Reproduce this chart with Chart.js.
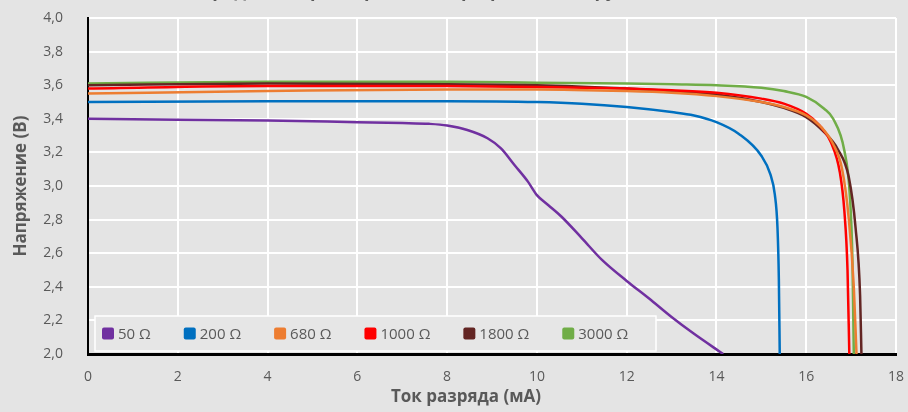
<!DOCTYPE html>
<html>
<head>
<meta charset="utf-8">
<script src="https://cdn.jsdelivr.net/npm/chart.js@4.4.1/dist/chart.umd.min.js"></script>
<style>
  html, body { margin: 0; padding: 0; background: #e4e4e4; }
  #wrap { position: relative; width: 908px; height: 412px; }
</style>
</head>
<body>
<div id="wrap"><canvas id="chart"></canvas></div>
<script>
// series labels and colours
const names = ['50 Ω', '200 Ω', '680 Ω', '1000 Ω', '1800 Ω', '3000 Ω'];
const colors = ['#7030a0', '#0070c0', '#ed7d31', '#ff0000', '#632523', '#70ad47'];

// current (mA) / voltage (V)
const cur50   = [0, 2, 4, 6, 7, 7.6, 8, 8.45, 8.9, 9.2, 9.5, 9.8, 10, 10.25, 10.55, 11, 11.45, 12, 12.5, 13, 13.5, 14.15];
const volt50  = [3.40, 3.395, 3.39, 3.38, 3.375, 3.37, 3.36, 3.333, 3.284, 3.224, 3.125, 3.026, 2.946, 2.887, 2.817, 2.69, 2.56, 2.435, 2.33, 2.22, 2.12, 2.00];

const cur200  = [0, 4, 8, 10, 11, 12, 13, 13.5, 14, 14.5, 15, 15.2, 15.3, 15.36, 15.39, 15.41];
const volt200 = [3.50, 3.505, 3.505, 3.50, 3.49, 3.47, 3.44, 3.42, 3.38, 3.31, 3.18, 3.07, 2.95, 2.75, 2.45, 2.00];

const cur680  = [0, 4, 8, 10, 12, 13, 14, 15, 15.5, 16, 16.3, 16.6, 16.8, 16.95, 17.06, 17.12];
const volt680 = [3.55, 3.565, 3.575, 3.575, 3.565, 3.555, 3.535, 3.50, 3.47, 3.42, 3.36, 3.25, 3.10, 2.80, 2.40, 2.00];

const cur1000  = [0, 4, 8, 10, 12, 13, 14, 15, 15.5, 16, 16.3, 16.55, 16.75, 16.85, 16.92, 16.96];
const volt1000 = [3.58, 3.595, 3.595, 3.59, 3.58, 3.57, 3.555, 3.52, 3.49, 3.43, 3.36, 3.26, 3.08, 2.85, 2.50, 2.00];

const cur1800  = [0, 4, 8, 10, 12, 13, 14, 15, 15.5, 16, 16.4, 16.7, 16.95, 17.1, 17.2, 17.23];
const volt1800 = [3.60, 3.61, 3.605, 3.60, 3.58, 3.565, 3.545, 3.50, 3.465, 3.41, 3.32, 3.22, 3.05, 2.75, 2.35, 2.00];

const cur3000  = [0, 4, 8, 10, 12, 13, 14, 15, 15.5, 16, 16.4, 16.6, 16.85, 16.97, 17.03, 17.06];
const volt3000 = [3.61, 3.62, 3.62, 3.615, 3.61, 3.605, 3.60, 3.585, 3.565, 3.53, 3.46, 3.40, 3.21, 2.95, 2.55, 2.00];

const currents = [cur50, cur200, cur680, cur1000, cur1800, cur3000];
const voltages = [volt50, volt200, volt680, volt1000, volt1800, volt3000];

const grey = '#595959';
const font = 'Open Sans';

const datasets = names.map((n, i) => ({
  label: n,
  data: currents[i].map((x, k) => ({ x: x, y: voltages[i][k] })),
  borderColor: colors[i],
  backgroundColor: colors[i],
  borderWidth: 2.5,
  pointRadius: 0,
  cubicInterpolationMode: 'monotone',
  fill: false
}));

// legend box sitting inside the plot, bottom left
const boxLegend = {
  id: 'boxLegend',
  afterDraw(chart) {
    const ctx = chart.ctx;
    const x0 = 95, y0 = 316, w = 561, h = 35;
    ctx.save();
    ctx.fillStyle = '#e6e6e6';
    ctx.fillRect(x0, y0, w, h);
    ctx.strokeStyle = '#ffffff';
    ctx.lineWidth = 1.5;
    ctx.strokeRect(x0, y0, w, h);
    ctx.font = '15px "' + font + '"';
    ctx.textBaseline = 'middle';
    let x = 102;
    const cy = y0 + h / 2;
    chart.data.datasets.forEach(ds => {
      ctx.fillStyle = ds.borderColor;
      ctx.beginPath();
      ctx.roundRect(x, cy - 6, 12, 12, 2);
      ctx.fill();
      ctx.fillStyle = grey;
      ctx.fillText(ds.label, x + 16, cy + 1);
      x += 16 + ctx.measureText(ds.label).width + 33;
    });
    ctx.restore();
  }
};

// chart title (mostly cut off by the top edge) and x axis title
const texts = {
  id: 'texts',
  afterDraw(chart) {
    const ctx = chart.ctx;
    ctx.save();
    ctx.fillStyle = grey;
    ctx.font = 'bold 18px "' + font + '"';
    ctx.textBaseline = 'alphabetic';
    ctx.fillText('Разрядные характеристики при разной нагрузке', 180, -3);
    ctx.font = 'bold 17px "' + font + '"';
    ctx.textAlign = 'center';
    ctx.textBaseline = 'middle';
    ctx.fillText('Ток разряда (мА)', 466, 397);
    ctx.restore();
  }
};

new Chart(document.getElementById('chart'), {
  type: 'line',
  data: { datasets: datasets },
  plugins: [boxLegend, texts],
  options: {
    responsive: true,
    maintainAspectRatio: false,
    animation: false,
    layout: { padding: { top: 18, right: 12, left: 0, bottom: 0 } },
    plugins: { legend: { display: false }, tooltip: { enabled: false } },
    scales: {
      x: {
        type: 'linear',
        min: 0, max: 18,
        afterFit(s) { s.height = 58; },
        ticks: { stepSize: 2, padding: 1, color: grey, font: { family: font, size: 14 } },
        grid: { color: '#ffffff', lineWidth: 2, drawTicks: true, tickLength: 14, tickColor: 'rgba(0,0,0,0)' },
        border: { color: '#000000', width: 3 }
      },
      y: {
        type: 'linear',
        min: 2, max: 4,
        afterFit(s) { s.width = 88; },
        ticks: {
          stepSize: 0.2, padding: 1, color: grey, font: { family: font, size: 14 },
          callback: v => v.toFixed(1).replace('.', ',')
        },
        grid: { color: '#ffffff', lineWidth: 2, drawTicks: true, tickLength: 24, tickColor: 'rgba(0,0,0,0)' },
        border: { color: '#000000', width: 2 },
        title: { display: true, text: 'Напряжение (В)', color: grey, font: { family: font, size: 17, weight: 'bold' }, padding: { top: 11, bottom: 0 } }
      }
    }
  }
});
</script>
</body>
</html>
